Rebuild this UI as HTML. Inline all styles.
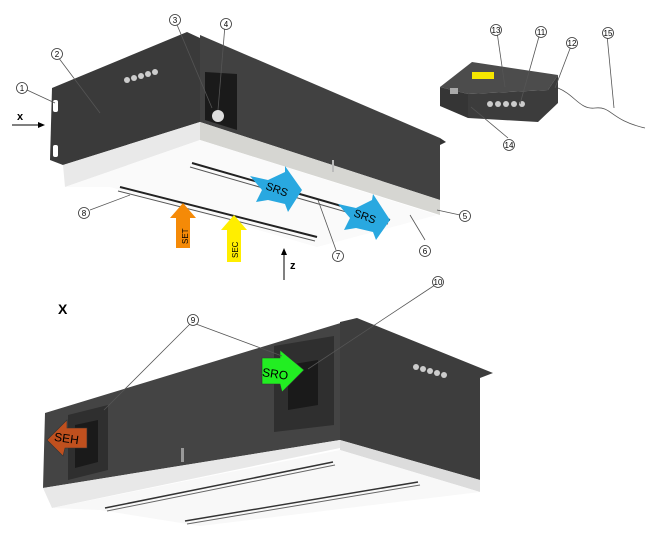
<!DOCTYPE html>
<html><head><meta charset="utf-8"><style>
html,body{margin:0;padding:0;background:#fff;}
svg{display:block;font-family:"Liberation Sans",sans-serif;}
.c{fill:#fff;stroke:#333;stroke-width:0.8}
.n{font-size:8px;text-anchor:middle;fill:#000}
.l{stroke:#555;stroke-width:0.8;fill:none}
</style></head><body>
<svg width="660" height="538" viewBox="0 0 660 538">
<!-- TOP UNIT -->
<polygon points="200,35 440,138 440,200 200,122" fill="#414141"/>
<polygon points="52,88 187,32 200,38 200,122 63,165 50,160" fill="#3a3a3a"/>
<polygon points="440,138 446,142 440,145" fill="#333"/>
<polygon points="63,165 200,122 200,140 65,187" fill="#e9e9e9"/>
<polygon points="200,122 440,200 440,215 200,140" fill="#d6d6d2"/>
<polygon points="65,187 200,140 437,215 400,225 317,247 110,187" fill="#fafafa"/>
<polygon points="205,72 237,74 237,130 205,120" fill="#1a1a1a"/>
<circle cx="218" cy="116" r="6" fill="#ddd"/>
<g fill="#ccc"><circle cx="127" cy="80" r="3"/><circle cx="134" cy="78" r="3"/><circle cx="141" cy="76" r="3"/><circle cx="148" cy="74" r="3"/><circle cx="155" cy="72" r="3"/></g>
<rect x="53" y="100" width="5" height="12" rx="2" fill="#fff"/><rect x="53" y="145" width="5" height="12" rx="2" fill="#fff"/>
<line x1="192" y1="163" x2="390" y2="220" stroke="#222" stroke-width="2"/>
<line x1="190" y1="167" x2="388" y2="224" stroke="#555" stroke-width="1"/>
<line x1="120" y1="187" x2="317" y2="237" stroke="#222" stroke-width="2"/>
<line x1="118" y1="191" x2="315" y2="241" stroke="#555" stroke-width="1"/>
<rect x="332" y="160" width="2" height="12" fill="#bbb"/>
<!-- arrows -->
<polygon points="176,248 190,248 190,218 196,218 183,203 170,218 176,218" fill="#f58a07"/>
<text font-size="8" transform="translate(188,244) rotate(-90)">SET</text>
<polygon points="227,262 241,262 241,230 247,230 234,215 221,230 227,230" fill="#ffee00"/>
<text font-size="8" transform="translate(238,258) rotate(-90)">SEC</text>
<polygon points="250,176 268,180 285,172 285,166 302,190 288,212 285,204 268,200 256,202 262,190" fill="#29a8e0"/>
<text font-size="11" transform="translate(265,189) rotate(20)">SRS</text>
<polygon points="338,204 356,208 372,200 373,194 390,220 376,240 373,232 356,228 344,230 350,218" fill="#29a8e0"/>
<text font-size="11" transform="translate(353,216) rotate(20)">SRS</text>
<!-- control box -->
<polygon points="440,87 472,62 558,75 548,90 468,94" fill="#4c4c4c"/>
<polygon points="440,87 468,94 468,118 440,106" fill="#353535"/>
<polygon points="468,94 548,90 558,75 558,103 538,122 468,118" fill="#3c3c3c"/>
<rect x="472" y="72" width="22" height="7" fill="#f6e600"/>
<rect x="450" y="88" width="8" height="6" fill="#aaa"/>
<g fill="#ccc"><circle cx="490" cy="104" r="3"/><circle cx="498" cy="104" r="3"/><circle cx="506" cy="104" r="3"/><circle cx="514" cy="104" r="3"/><circle cx="522" cy="104" r="3"/></g>
<path d="M558,88 C575,95 580,110 595,108 C612,106 610,120 645,128" class="l" stroke="#888"/>
<!-- X and Z -->
<text x="17" y="120" font-size="11" font-weight="bold">x</text>
<line x1="12" y1="125" x2="42" y2="125" stroke="#000"/><polygon points="45,125 38,122 38,128"/>
<text x="290" y="269" font-size="11" font-weight="bold">z</text>
<line x1="284" y1="280" x2="284" y2="252" stroke="#000"/><polygon points="284,248 281,255 287,255"/>
<!-- leaders top -->
<line class="l" x1="27" y1="90" x2="55" y2="103"/>
<line class="l" x1="58" y1="57" x2="100" y2="113"/>
<line class="l" x1="175" y1="20" x2="212" y2="108"/>
<line class="l" x1="225" y1="25" x2="218" y2="110"/>
<line class="l" x1="90" y1="210" x2="130" y2="195"/>
<line class="l" x1="336" y1="250" x2="318" y2="200"/>
<line class="l" x1="425" y1="240" x2="410" y2="215"/>
<line class="l" x1="460" y1="215" x2="437" y2="210"/>
<line class="l" x1="497" y1="32" x2="505" y2="87"/>
<line class="l" x1="540" y1="33" x2="520" y2="104"/>
<line class="l" x1="571" y1="46" x2="555" y2="88"/>
<line class="l" x1="607" y1="35" x2="614" y2="108"/>
<line class="l" x1="508" y1="138" x2="471" y2="107"/>
<g>
<circle class="c" cx="22" cy="88" r="5.5"/><text class="n" x="22" y="91">1</text>
<circle class="c" cx="57" cy="54" r="5.5"/><text class="n" x="57" y="57">2</text>
<circle class="c" cx="175" cy="20" r="5.5"/><text class="n" x="175" y="23">3</text>
<circle class="c" cx="226" cy="24" r="5.5"/><text class="n" x="226" y="27">4</text>
<circle class="c" cx="84" cy="213" r="5.5"/><text class="n" x="84" y="216">8</text>
<circle class="c" cx="338" cy="256" r="5.5"/><text class="n" x="338" y="259">7</text>
<circle class="c" cx="425" cy="251" r="5.5"/><text class="n" x="425" y="254">6</text>
<circle class="c" cx="465" cy="216" r="5.5"/><text class="n" x="465" y="219">5</text>
<circle class="c" cx="496" cy="30" r="5.5"/><text class="n" x="496" y="33">13</text>
<circle class="c" cx="541" cy="32" r="5.5"/><text class="n" x="541" y="35">11</text>
<circle class="c" cx="572" cy="43" r="5.5"/><text class="n" x="572" y="46">12</text>
<circle class="c" cx="608" cy="33" r="5.5"/><text class="n" x="608" y="36">15</text>
<circle class="c" cx="509" cy="145" r="5.5"/><text class="n" x="509" y="148">14</text>
</g>
<!-- BOTTOM UNIT -->
<text x="58" y="314" font-size="14" font-weight="bold">X</text>
<polygon points="45,413 357,318 340,325 340,440 43,488" fill="#444"/>
<polygon points="340,322 357,318 493,373 480,378 480,480 340,440" fill="#3d3d3d"/>
<polygon points="43,488 340,440 340,448 52,508" fill="#e8e8e8"/>
<polygon points="340,440 480,480 480,492 340,450" fill="#dcdcdc"/>
<polygon points="52,508 340,450 480,492 200,526 100,510" fill="#f8f8f8"/>
<polygon points="68,415 108,405 108,470 68,480" fill="#2f2f2f"/><polygon points="75,425 98,420 98,462 75,468" fill="#1a1a1a"/>
<polygon points="274,346 334,336 334,425 274,432" fill="#2f2f2f"/><polygon points="288,365 318,360 318,405 288,410" fill="#1a1a1a"/>
<g fill="#ccc"><circle cx="416" cy="367" r="3"/><circle cx="423" cy="369" r="3"/><circle cx="430" cy="371" r="3"/><circle cx="437" cy="373" r="3"/><circle cx="444" cy="375" r="3"/></g>
<rect x="181" y="448" width="3" height="14" fill="#999"/>
<line x1="105" y1="508" x2="333" y2="462" stroke="#333" stroke-width="1.5"/>
<line x1="107" y1="511" x2="335" y2="465" stroke="#666" stroke-width="1"/>
<line x1="185" y1="521" x2="418" y2="482" stroke="#333" stroke-width="1.5"/>
<line x1="187" y1="524" x2="420" y2="485" stroke="#666" stroke-width="1"/>
<polygon points="262,358 280,358 280,350 304,370 282,392 280,384 262,384" fill="#22ee22" stroke="#333" stroke-width="0.6"/>
<text x="262" y="378" font-size="12" transform="rotate(8 275 375)">SRO</text>
<polygon points="87,428 67,428 67,420 47,440 63,456 65,448 87,448" fill="#c0501e" stroke="#333" stroke-width="0.6"/>
<text x="54" y="443" font-size="12" transform="rotate(8 70 440)">SEH</text>
<line class="l" x1="190" y1="324" x2="104" y2="410"/>
<line class="l" x1="196" y1="324" x2="282" y2="356"/>
<line class="l" x1="438" y1="283" x2="308" y2="369"/>
<circle class="c" cx="193" cy="320" r="5.5"/><text class="n" x="193" y="323">9</text>
<circle class="c" cx="438" cy="282" r="5.5"/><text class="n" x="438" y="285">10</text>
</svg>
</body></html>
